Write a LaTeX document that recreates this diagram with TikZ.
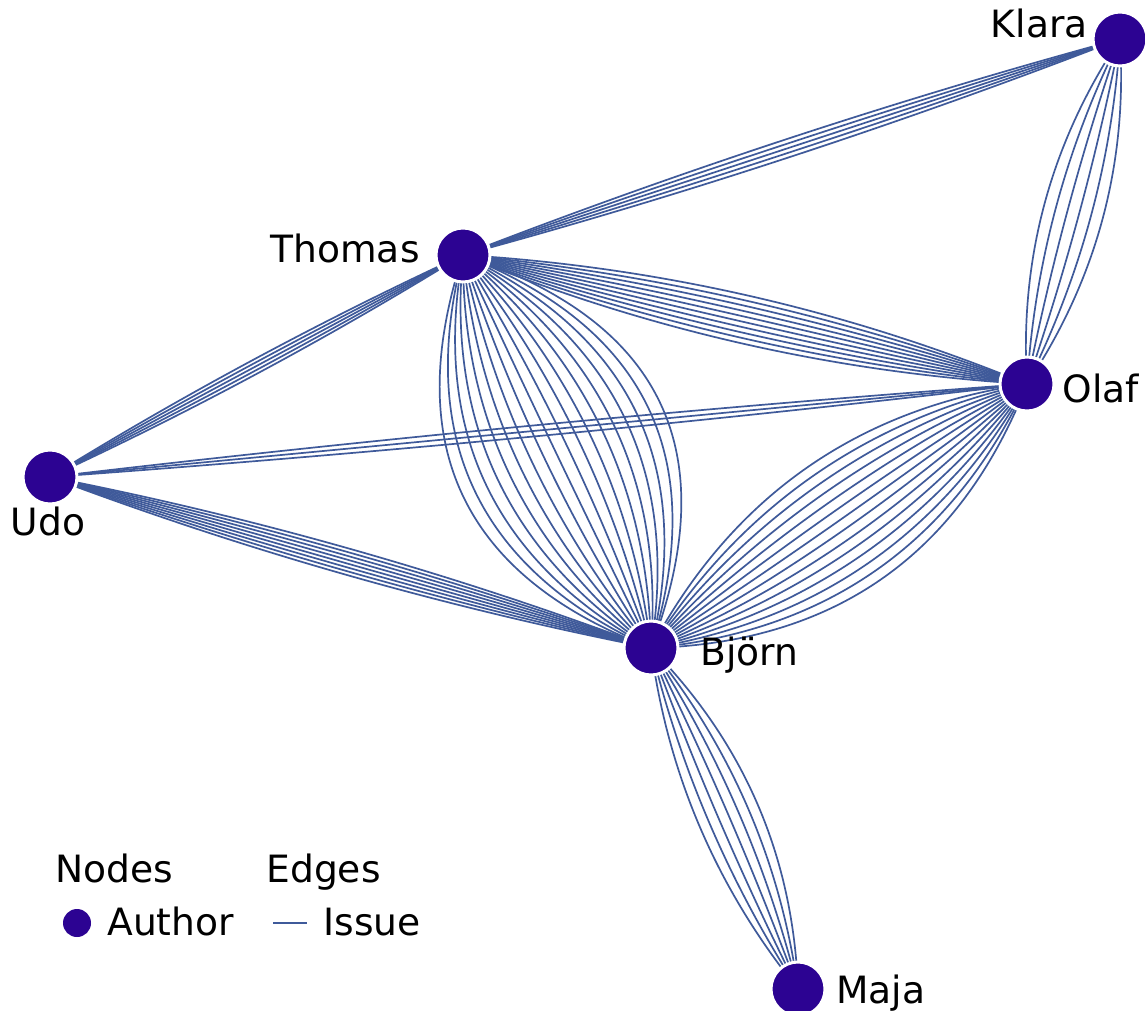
\documentclass[tikz,border=0pt]{standalone}
\usepackage{fontspec}
\setmainfont{DejaVu Sans}
\usetikzlibrary{calc,backgrounds}
\definecolor{authorfill}{RGB}{44,3,146}
\definecolor{issueline}{RGB}{63,90,154}
\tikzset{
  author/.style={circle, fill=authorfill, draw=white, line width=1.5pt,
                 minimum size=27pt, inner sep=0pt},
  issue/.style={draw=issueline, line width=0.85pt},
  lbl/.style={inner sep=0pt, font=\fontsize{18.8pt}{22pt}\selectfont, text=black},
}
% #3 parallel issues between authors #1 and #2, drawn as quadratic arcs;
% the control point sits #4 ... #5 pt off the mid-point of the chord
\newcommand\bundle[5]{%
  \foreach \k in {1,...,#3}{%
    \pgfmathsetmacro\dd{#4+(#5-(#4))*(\k-1)/(#3-1)}%
    \path ($(#1.center)!0.5!(#2.center)!\dd pt!90:(#2.center)$) coordinate (q);
    \draw[issue] (#1.center) .. controls ($(#1.center)!0.6667!(q)$)
                 and ($(#2.center)!0.6667!(q)$) .. (#2.center);
  }%
}
\begin{document}
\begin{tikzpicture}[x=0.5pt, y=-0.5pt]
\useasboundingbox (0,0) rectangle (1145,1011);

% authors
\node[author] (klara)  at (1120,39)  {};
\node[author] (thomas) at (463,255)  {};
\node[author] (olaf)   at (1027,384) {};
\node[author] (udo)    at (50,477)   {};
\node[author] (bjorn)  at (651,648)  {};
\node[author] (maja)   at (798,989)  {};

% issues, kept beneath the authors
\begin{pgfonlayer}{background}
\fill[white] (0,0) rectangle (1145,1011);
\bundle{thomas}{klara}{5}{-9}{9}
\bundle{udo}{thomas}{5}{-7}{7}
\bundle{udo}{olaf}{3}{-5.5}{5.5}
\bundle{udo}{bjorn}{8}{-13}{13}
\bundle{thomas}{olaf}{10}{-24}{24}
\bundle{klara}{olaf}{6}{-30}{30}
\bundle{bjorn}{olaf}{14}{-76}{58}
\bundle{bjorn}{maja}{7}{-26}{36}
\bundle{thomas}{bjorn}{18}{-104}{114}
\end{pgfonlayer}

% names
\node[lbl, anchor=base east] (lklara)  at (1088,38)  {Klara};
\node[lbl, anchor=base east] (lthomas) at (420,262)  {Thomas};
\node[lbl, anchor=base west] (lolaf)   at (1062,402) {Olaf};
\node[lbl, anchor=base]      (ludo)    at (48,535)   {Udo};
\node[lbl, anchor=base west] (lbjorn)  at (700,665)  {Björn};
\node[lbl, anchor=base west] (lmaja)   at (836,1003) {Maja};

% legend
\node[lbl, anchor=base west] (lnodes) at (55,882)  {Nodes};
\node[lbl, anchor=base west] (ledges) at (266,882) {Edges};
\node[circle, fill=authorfill, minimum size=14pt, inner sep=0pt] (ldot) at (77,923) {};
\node[lbl, anchor=base west] (lauthor) at (107,935) {Author};
\coordinate (lineA) at (273,923);
\coordinate (lineB) at (307,923);
\draw[issue] (lineA) -- (lineB);
\node[lbl, anchor=base west] (lissue) at (323,935) {Issue};
\end{tikzpicture}
\end{document}
